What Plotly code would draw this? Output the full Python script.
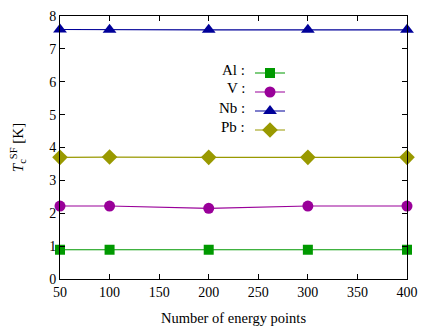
import plotly.graph_objects as go

x_points = [50, 100, 200, 300, 400]
al_vals = [0.89, 0.89, 0.89, 0.89, 0.89]
v_vals = [2.22, 2.22, 2.15, 2.22, 2.22]
nb_vals = [7.59, 7.58, 7.58, 7.58, 7.58]
pb_vals = [3.70, 3.71, 3.70, 3.70, 3.70]
names = ["Al :", "V :", "Nb :", "Pb :"]
x_ticks = [50, 100, 150, 200, 250, 300, 350, 400]
y_ticks = [0, 1, 2, 3, 4, 5, 6, 7, 8]

FONT = "Liberation Serif"
series = [
    (al_vals, "#009900", "square", 10),
    (v_vals, "#990099", "circle", 11),
    (nb_vals, "#000099", "triangle-up", 12),
    (pb_vals, "#999900", "diamond", 12),
]

# page body has an 8px default margin; compensate
OFF = 8
PLOT_LEFT, PLOT_RIGHT = 60 - OFF, 407 - OFF
PLOT_TOP, PLOT_BOT = 16 - OFF, 279 - OFF
PW = PLOT_RIGHT - PLOT_LEFT
PH = PLOT_BOT - PLOT_TOP

def py2paper(py):
    return (PLOT_BOT - (py - OFF)) / PH

def px2paper(px):
    return ((px - OFF) - PLOT_LEFT) / PW

fig = go.Figure()
for (vals, col, sym, sz), nm in zip(series, names):
    fig.add_trace(go.Scatter(
        x=x_points, y=vals, mode="lines+markers", name="\u00a0",
        line=dict(color=col, width=1.2),
        marker=dict(symbol=sym, size=sz, color=col, line=dict(width=0)),
        cliponaxis=False,
    ))

row_centers = [69.5, 88.5, 107.5, 126.5]
for nm, rc in zip(names, row_centers):
    fig.add_annotation(
        xref="paper", yref="paper", x=px2paper(247), y=py2paper(rc),
        text=nm, showarrow=False, xanchor="right", yanchor="middle",
        font=dict(family=FONT, size=15, color="black"),
    )

axis_common = dict(
    showgrid=False, zeroline=False, showline=True, linecolor="black",
    linewidth=1, mirror="allticks", ticks="inside", ticklen=5,
    tickcolor="black", tickfont=dict(family=FONT, size=14, color="black"),
    automargin=False,
)
fig.update_xaxes(range=[50, 400], tickvals=x_ticks,
                 title=dict(text="Number of energy points",
                            font=dict(family=FONT, size=14.5, color="black"),
                            standoff=14),
                 **axis_common)
fig.update_yaxes(range=[0, 8], tickvals=y_ticks,
                 title=dict(text="<i>T</i><sub>c</sub><sup>SF</sup> [K]",
                            font=dict(family=FONT, size=15, color="black"),
                            standoff=22),
                 **axis_common)
fig.update_layout(
    width=436, height=328,
    margin=dict(l=PLOT_LEFT, r=436 - PLOT_RIGHT, t=PLOT_TOP, b=328 - PLOT_BOT),
    paper_bgcolor="white", plot_bgcolor="white",
    showlegend=True,
    legend=dict(x=px2paper(250), y=py2paper(row_centers[0] - 11),
                xanchor="left", yanchor="top",
                bgcolor="rgba(0,0,0,0)", font=dict(family=FONT, size=10),
                tracegroupgap=0, itemwidth=30),
)
fig.write_html("out.html")
